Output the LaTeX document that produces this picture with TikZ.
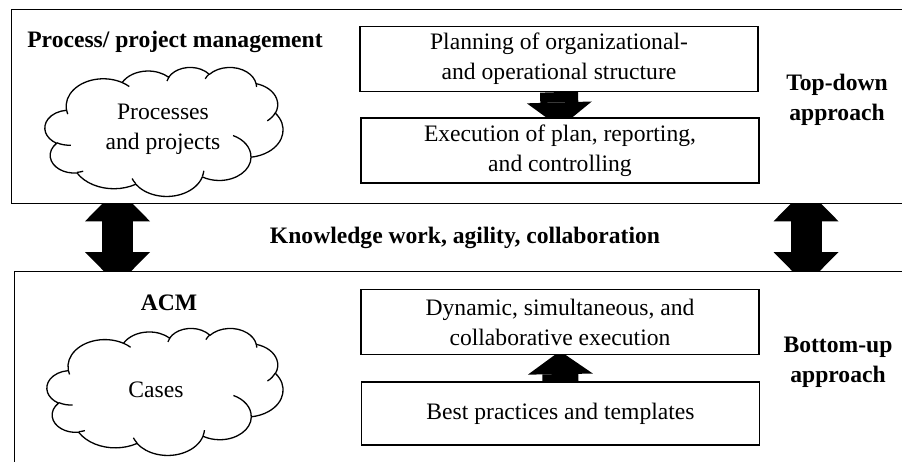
\documentclass[tikz,border=0pt]{standalone}
\usepackage{fontspec}
\setmainfont{Liberation Serif}
\usetikzlibrary{arrows.meta,calc}

\pgfdeclarelayer{bigarrows}
\pgfdeclarelayer{panels}
\pgfdeclarelayer{links}
\pgfsetlayers{bigarrows,panels,links,main}

% elliptic arc given by radii and "visual" start angle / sweep (degrees)
\tikzset{declare function={
  pa(\a,\w,\h)=atan2(\w*sin(\a),\h*cos(\a));
  pd(\a,\s,\w,\h)=\s+mod(pa(\a+\s,\w,\h)-pa(\a,\w,\h)-\s+1260,360)-180;
}}
\newcommand\varc[4]{arc[x radius=#1, y radius=#2, start angle={pa(#3,#1,#2)}, delta angle={pd(#3,#4,#1,#2)}]}

% cloud outline in a 432 x 432 design box, placed at (#1,#2) with width #3 and height #4
\newcommand\drawcloud[4]{%
  \begin{scope}[shift={(#1,#2)}, xscale=#3/432, yscale=#4/432]
    \draw[cloudline, fill=white] (39.00,143.70)
      \varc{67.53}{91.90}{-190.4875}{123.7805}
      \varc{53.33}{72.67}{-144.1024}{89.9452}
      \varc{43.65}{59.45}{-145.8079}{99.7230}
      \varc{48.57}{65.95}{-130.9861}{117.2417}
      \varc{53.33}{72.73}{-78.7089}{109.0269}
      \varc{67.75}{92.20}{-46.2673}{130.2690}
      \varc{57.85}{78.67}{0.6250}{114.0333}
      \varc{67.52}{92.15}{22.4516}{115.1726}
      \varc{77.20}{105.43}{66.2426}{75.7110}
      \varc{43.60}{59.18}{-274.9421}{146.7356}
      \varc{43.45}{59.45}{-246.8285}{152.5189}
      -- cycle;
    % inner strokes where the puffs overlap
    \draw[cloudline]
      (46.93,261.77) \varc{43.45}{59.45}{86.7420}{26.4295}
      (69.28,348.99) \varc{43.60}{59.18}{73.6105}{11.4475}
      (164.78,390.90) \varc{67.52}{92.15}{137.6242}{14.0811}
      (288.27,347.51) \varc{67.52}{92.15}{6.4533}{15.9984}
      (341.29,229.54) \varc{57.85}{78.67}{-70.2924}{70.9174}
      (417.98,153.54) \varc{53.33}{72.73}{30.3180}{27.7515}
      (383.24,54.26) \varc{48.57}{65.95}{-13.7443}{14.8589}
      (290.78,39.52) \varc{48.57}{65.95}{-149.1815}{18.1954}
      (221.41,47.20) \varc{43.65}{59.45}{-163.4943}{17.6864}
      (140.00,51.92) \varc{67.53}{91.90}{-66.7070}{12.3194}
      (41.27,157.89) \varc{67.53}{91.90}{157.6544}{11.8582};
  \end{scope}}

\tikzset{
  txt/.style={font=\fontsize{23.6}{30}\selectfont, align=center, inner sep=0pt},
  heading/.style={font=\fontsize{23.6}{30}\selectfont\bfseries, align=center, inner sep=0pt},
  panel/.style={draw, line width=1.3pt, fill=white, inner sep=0pt, anchor=north west},
  stepbox/.style={txt, draw, line width=1.2pt, fill=white, minimum width=398pt, minimum height=65pt},
  cloudline/.style={line width=1.3pt, line join=round},
  fatlink/.style={line width=#1, draw=black},
  fathead/.style={-{Triangle[width=65pt,length=#1,line width=0pt]}},
  fatboth/.style={{Triangle[width=65pt,length=#1,line width=0pt]}-{Triangle[width=65pt,length=#1,line width=0pt]}},
}

\begin{document}
\begin{tikzpicture}[x=1pt,y=-1pt]
\useasboundingbox (0,0) rectangle (902,461);

% the two large panels
\begin{pgfonlayer}{panels}
  \node[panel, minimum width=909pt, minimum height=194pt] (pm) at (11,9) {};
  \node[panel, minimum width=906pt, minimum height=210pt] (acm) at (14,271) {};
\end{pgfonlayer}

% upper panel: process / project management
\node[heading] (pmtitle) at (175,42) {Process/ project management};
\drawcloud{45}{67}{238}{129}
\node[txt] (procs) at (163,129) {Processes\\and projects};
\node[stepbox] (plan) at (559,59) {Planning of organizational-\\and operational structure};
\node[stepbox] (exec) at (560,150.5) {Execution of plan, reporting,\\and controlling};
\node[heading] (topdown) at (837,100) {Top-down\\approach};

% lower panel: adaptive case management
\node[heading] (acmtitle) at (169,303) {ACM};
\drawcloud{47}{328}{236}{127}
\node[txt] (cases) at (156,390) {Cases};
\node[stepbox] (dyn) at (560,322) {Dynamic, simultaneous, and\\collaborative execution};
\node[stepbox, minimum height=63pt] (best) at (560.5,413.5) {Best practices and templates};
\node[heading] (bottomup) at (838,362) {Bottom-up\\approach};

% middle label
\node[heading] (kw) at (465,238) {Knowledge work, agility, collaboration};

% arrows between the steps
\begin{pgfonlayer}{links}
  \draw[fatlink=38pt, fathead=25pt] (plan.south) -- ([yshift=-10pt]exec.north);
  \draw[fatlink=36pt, fathead=23pt] (best.north) -- ([yshift=4pt]dyn.south);
\end{pgfonlayer}

% double arrows between the panels
\begin{pgfonlayer}{bigarrows}
  \coordinate (la) at ($(pm.south west)+(106.5,-16)$);
  \coordinate (lb) at ($(acm.north west)+(103.5,14)$);
  \coordinate (ra) at ($(pm.south west)+(795,-16)$);
  \coordinate (rb) at ($(acm.north west)+(792,14)$);
  \draw[fatlink=31pt, fatboth=33pt] (la) -- (lb);
  \draw[fatlink=31pt, fatboth=33pt] (ra) -- (rb);
\end{pgfonlayer}
\end{tikzpicture}
\end{document}
